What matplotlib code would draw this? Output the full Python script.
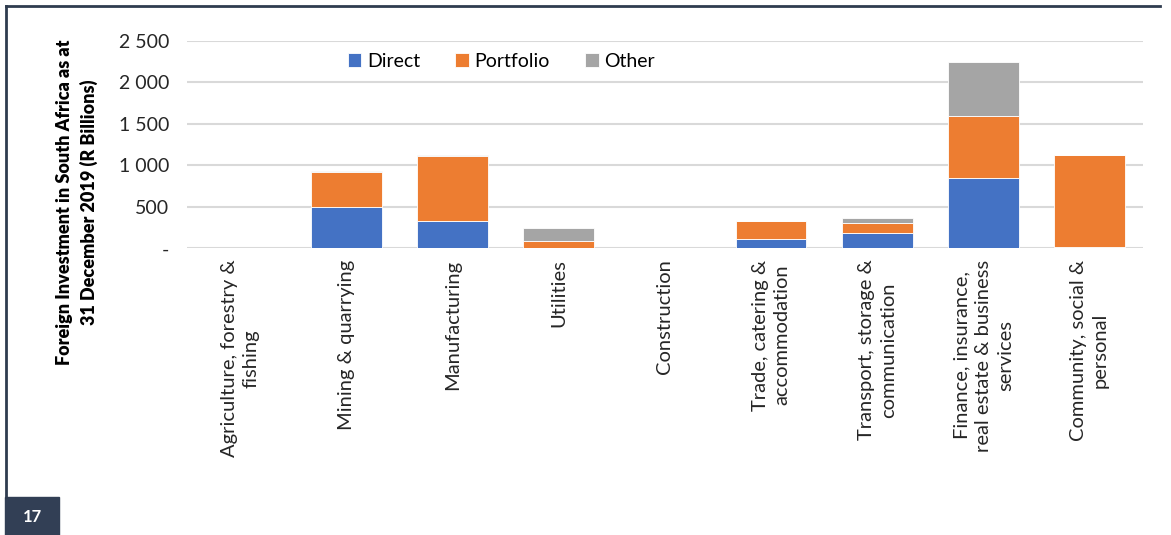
import numpy as np
import matplotlib.pyplot as plt
from matplotlib.patches import Rectangle
from matplotlib.lines import Line2D

plt.rcParams['font.family'] = ['Lato', 'DejaVu Sans']

sectors = [
    'Agriculture, forestry &\nfishing',
    'Mining & quarrying',
    'Manufacturing',
    'Utilities',
    'Construction',
    'Trade, catering &\naccommodation',
    'Transport, storage &\ncommunication',
    'Finance, insurance,\nreal estate & business\nservices',
    'Community, social &\npersonal',
]
direct = [4, 502, 326, 3, 3, 112, 181, 848, 10]
portfolio = [3, 415, 784, 85, 2, 217, 128, 752, 1115]
other = [1, 15, 15, 157, 1, 4, 57, 643, 5]

yticks = [0, 500, 1000, 1500, 2000, 2500]
ytick_labels = ['-', '500', '1 000', '1 500', '2 000', '2 500']

fig = plt.figure(figsize=(11.71, 5.35), dpi=100)
ax = fig.add_axes([0.1597, 0.5359, 0.8161, 0.3875])

x = np.arange(len(sectors))
w = 0.667
d = np.array(direct)
p = np.array(portfolio)
o = np.array(other)
ax.bar(x, d, w, color='#4472C4', edgecolor='white', linewidth=0.6, label='Direct', zorder=3)
ax.bar(x, p, w, bottom=d, color='#ED7D31', edgecolor='white', linewidth=0.6, label='Portfolio', zorder=3)
ax.bar(x, o, w, bottom=d + p, color='#A5A5A5', edgecolor='white', linewidth=0.6, label='Other', zorder=3)

ax.set_xlim(-0.5, len(sectors) - 0.5)
ax.set_ylim(0, 2500)
ax.set_yticks(yticks)
ax.set_yticklabels(ytick_labels, fontsize=14, color='#262626')
ax.set_xticks(x)
ax.set_xticklabels(sectors, rotation=90, fontsize=14.5, color='#262626',
                   va='top', ha='center', multialignment='center', linespacing=1.35)
ax.tick_params(axis='both', length=0)
ax.tick_params(axis='y', pad=13)
ax.tick_params(axis='x', pad=8)
for s in ax.spines.values():
    s.set_visible(False)
ax.grid(axis='y', color='#d9d9d9', linewidth=1.5, zorder=0)
ax.set_axisbelow(True)

ax.legend(loc='upper left', bbox_to_anchor=(0.16, 0.98), ncol=3, frameon=False,
          fontsize=14, handlelength=0.7, handleheight=0.7, handletextpad=0.3,
          columnspacing=1.8, borderaxespad=0)

fig.text(77 / 1171, 1 - 202 / 535,
         'Foreign Investment in South Africa as at\n31 December 2019 (R Billions)',
         rotation=90, ha='center', va='center', fontsize=13, fontweight='heavy',
         multialignment='center', linespacing=1.45, color='black')

# page frame and page number badge
frame = '#2f3c4f'
fig.add_artist(Line2D([6 / 1171, 1160 / 1171], [1 - 6 / 535, 1 - 6 / 535],
                      color=frame, linewidth=2, transform=fig.transFigure))
fig.add_artist(Line2D([6 / 1171, 6 / 1171], [1 - 6 / 535, 1 - 497 / 535],
                      color=frame, linewidth=2, transform=fig.transFigure))
fig.add_artist(Rectangle((5 / 1171, 0), 54 / 1171, 38 / 535, color='#323f55',
                         transform=fig.transFigure))
fig.text(32 / 1171, 18 / 535, '17', color='white', fontsize=12, fontweight='bold',
         ha='center', va='center')

fig.savefig('out.png', dpi=100)
